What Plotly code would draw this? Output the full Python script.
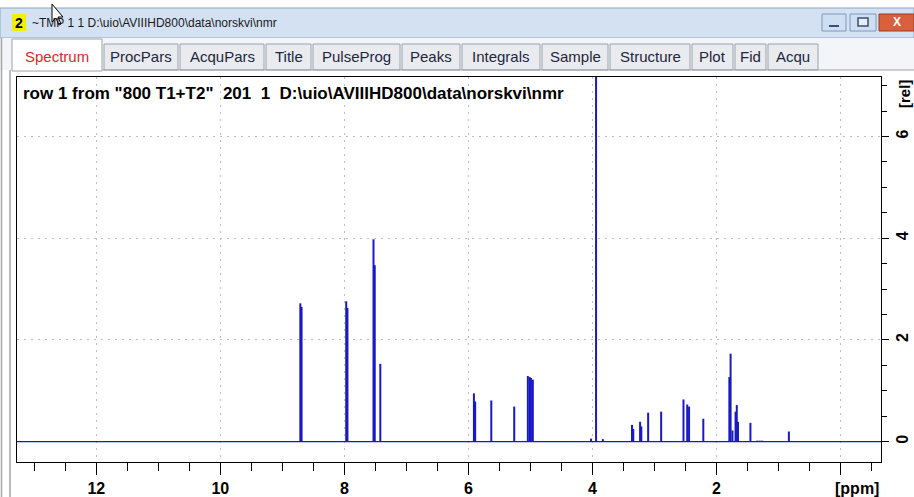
import plotly.graph_objects as go

# ---------------- data ----------------
peak_ppm = [8.71, 8.69, 7.97, 7.95, 7.53, 7.51, 7.42,
            5.91, 5.89, 5.63, 5.26, 5.04, 5.01, 4.99, 4.96,
            4.02, 3.94, 3.83,
            3.36, 3.34, 3.23, 3.21, 3.10, 2.89,
            2.53, 2.47, 2.44, 2.21,
            1.79, 1.77, 1.74, 1.69, 1.67, 1.65, 1.45,
            1.34, 1.30, 1.26, 0.83]
peak_int = [2.72, 2.65, 2.76, 2.63, 3.98, 3.47, 1.53,
            0.95, 0.79, 0.81, 0.69, 1.29, 1.27, 1.25, 1.22,
            0.06, 9.00, 0.05,
            0.33, 0.25, 0.39, 0.30, 0.57, 0.59,
            0.83, 0.73, 0.69, 0.45,
            1.27, 1.73, 0.22, 0.59, 0.72, 0.39, 0.37,
            0.02, 0.02, 0.02, 0.20]
ppm_range = [13.28, -0.656]
rel_range = [-0.40, 7.17]
ppm_ticks = [0, 2, 4, 6, 8, 10, 12]
ppm_ticktext = ["", "2", "4", "6", "8", "10", "12"]
rel_ticks = [0, 2, 4, 6]

tab_labels = ["Spectrum", "ProcPars", "AcquPars", "Title", "PulseProg", "Peaks",
              "Integrals", "Sample", "Structure", "Plot", "Fid", "Acqu"]
tab_edges = [(12, 102), (104, 178), (180, 264), (266, 311), (313, 400), (402, 460),
             (462, 540), (542, 608), (610, 690), (692, 733), (735, 766), (768, 818)]

window_title = r"~TMP 1 1 D:\uio\AVIIIHD800\data\norskvi\nmr"
plot_title = ('row 1 from "800 T1+T2"\u00a0\u00a0201\u00a0\u00a01\u00a0\u00a0'
              + r"D:\uio\AVIIIHD800\data\norskvi\nmr")

# ---------------- geometry ----------------
W, H = 914, 497
ML, MR, MT, MB = 17, 33, 77, 35
PW, PH = W - ML - MR, H - MT - MB


def fx(x):
    return (x - ML) / PW


def fy(y):
    return (H - MB - y) / PH


BLUE = "#1a1ac4"
FONT = "Liberation Sans, Arial, sans-serif"

xs, ys = [], []
for p, h in zip(peak_ppm, peak_int):
    xs += [p, p, None]
    ys += [0, h, None]

fig = go.Figure()
fig.add_trace(go.Scatter(x=ppm_range, y=[0, 0], mode="lines",
                         line=dict(color=BLUE, width=1.2), hoverinfo="skip"))
fig.add_trace(go.Scatter(x=xs, y=ys, mode="lines",
                         line=dict(color=BLUE, width=2), hoverinfo="skip"))

shapes = []
annotations = []


def rect(x0, y0, x1, y1, fill, line="rgba(0,0,0,0)", lw=1):
    shapes.append(dict(type="rect", xref="paper", yref="paper",
                       x0=fx(x0), x1=fx(x1), y0=fy(y0), y1=fy(y1),
                       fillcolor=fill, line=dict(color=line, width=lw), layer="above"))


def hline(x0, x1, y, color, lw=1):
    shapes.append(dict(type="line", xref="paper", yref="paper",
                       x0=fx(x0), x1=fx(x1), y0=fy(y), y1=fy(y),
                       line=dict(color=color, width=lw), layer="above"))


def vline(x, y0, y1, color, lw=1):
    shapes.append(dict(type="line", xref="paper", yref="paper",
                       x0=fx(x), x1=fx(x), y0=fy(y0), y1=fy(y1),
                       line=dict(color=color, width=lw), layer="above"))


def text(x, y, s, size, color="black", bold=False, xanchor="center",
         family=FONT, angle=0):
    annotations.append(dict(x=fx(x), y=fy(y), xref="paper", yref="paper",
                            text=s, showarrow=False, xanchor=xanchor, yanchor="middle",
                            textangle=angle,
                            font=dict(size=size, color=color, family=family,
                                      weight="bold" if bold else "normal")))


# window chrome
rect(0, 8, 914, 38, "#d3e1f2", "#8fa6c3")
rect(0, 38, 914, 70, "#f3f5f8")
# title bar
rect(12, 14, 26, 31, "#f2f000")
text(19, 23, "2", 14, bold=True)
text(30, 23, window_title, 12, color="#1a1a1a", xanchor="left",
     family="Liberation Sans Narrow, Liberation Sans, Arial, sans-serif")
# window buttons
rect(822, 14, 846, 31, "#cfdff3", "#7d98bb")
hline(829, 839, 26, "#3b4f6e", 2)
rect(850, 14, 876, 31, "#cfdff3", "#7d98bb")
rect(858, 18, 868, 26, "#e8eef7", "#3b4f6e", 1.5)
rect(879, 14, 914, 31, "#d8603f", "#9a3a22")
text(897, 22, "X", 12, color="white", bold=True)

# tabs
for i, (lab, (a, b)) in enumerate(zip(tab_labels, tab_edges)):
    if i == 0:
        rect(a, 39, b, 71, "white", "#9aa3ad")
        text((a + b) / 2, 56, lab, 15, color="#d42b2b")
    else:
        rect(a, 44, b, 70, "#e9ebee", "#9aa3ad")
        text((a + b) / 2, 57, lab, 15, color="#1d2741")

# panel borders
hline(102, 914, 70, "#9aa3ad")
vline(1.5, 38, 497, "#a6a6a6", 1.5)
vline(10, 70, 497, "#a6a6a6", 1.5)

# cursor
cx = [52, 52, 56, 59, 61, 58, 63]
cy = [4, 22, 18, 25, 24, 17, 17]
path = "M " + " L ".join(f"{fx(a):.5f},{fy(b):.5f}" for a, b in zip(cx, cy)) + " Z"
shapes.append(dict(type="path", xref="paper", yref="paper", path=path,
                   fillcolor="white", line=dict(color="black", width=1), layer="above"))

# in-plot texts
text(21, 93, plot_title, 17, bold=True, xanchor="left")
text(857, 488, "[ppm]", 16, bold=True)
text(904, 94, "[rel]", 15, bold=True, angle=-90)

GRID = dict(showgrid=True, gridcolor="#bdbdbd", griddash="2px,5px", gridwidth=1)

fig.update_layout(
    width=W, height=H,
    margin=dict(l=ML, r=MR, t=MT, b=MB, autoexpand=False),
    paper_bgcolor="white", plot_bgcolor="white",
    showlegend=False,
    shapes=shapes, annotations=annotations,
    xaxis=dict(range=ppm_range, tickmode="array", tickvals=ppm_ticks, ticktext=ppm_ticktext,
               ticks="outside", ticklen=12, tickwidth=1, tickcolor="black",
               showline=True, linecolor="black", linewidth=1, mirror=True,
               zeroline=False, automargin=False,
               tickfont=dict(size=16, color="black", weight="bold", family=FONT),
               minor=dict(dtick=0.5, tick0=0, ticks="outside", ticklen=8,
                          tickcolor="black", showgrid=False),
               **GRID),
    yaxis=dict(range=rel_range, side="right", tickmode="array", tickvals=rel_ticks,
               ticks="outside", ticklen=7, tickwidth=1, tickcolor="black",
               showline=True, linecolor="black", linewidth=1, mirror=True,
               zeroline=False, tickangle=-90, automargin=False,
               tickfont=dict(size=16, color="black", weight="bold", family=FONT),
               minor=dict(dtick=0.5, tick0=0, ticks="outside", ticklen=5,
                          tickcolor="black", showgrid=False),
               **GRID),
)

fig.write_html("out.html", config={"displayModeBar": False},
               post_script="document.body.style.margin='0px';document.body.style.overflow='hidden';")
